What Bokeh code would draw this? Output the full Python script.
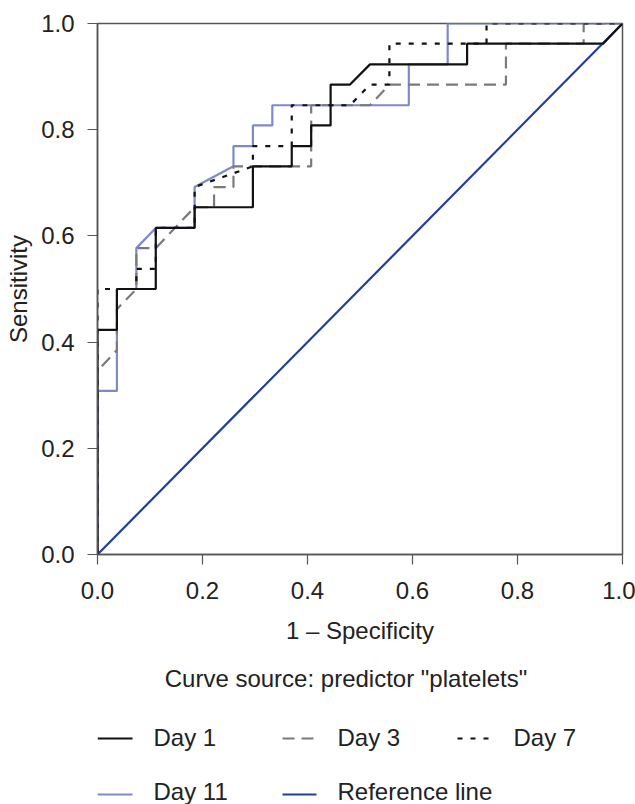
from bokeh.plotting import figure
from bokeh.models import Range1d, FixedTicker, PrintfTickFormatter
from bokeh.layouts import column
from bokeh.embed import file_html
from bokeh.resources import INLINE
from bokeh.core.properties import value

# ---- data (1 - specificity, sensitivity) ----
day1_x = [0, 0, .037, .037, .111, .111, .185, .185, .296, .296, .370, .370, .407, .407,
          .444, .444, .481, .519, .704, .704, .963, 1]
day1_y = [0, .423, .423, .5, .5, .615, .615, .654, .654, .731, .731, .769, .769, .808,
          .808, .885, .885, .923, .923, .962, .962, 1]

day3_x = [0, 0, .037, .037, .074, .074, .111, .185, .222, .222, .259, .259, .407, .407,
          .519, .556, .778, .778, .926, .926, 1]
day3_y = [0, .346, .385, .462, .5, .577, .577, .654, .654, .692, .692, .731, .731, .846,
          .846, .885, .885, .962, .962, 1, 1]

day7_x = [0, 0, .074, .074, .111, .111, .185, .185, .296, .296, .370, .370, .481, .519,
          .556, .556, .741, .741, 1]
day7_y = [0, .5, .5, .538, .538, .615, .615, .692, .731, .769, .769, .846, .846, .885,
          .885, .962, .962, 1, 1]

day11_x = [0, 0, .037, .037, .074, .074, .111, .185, .185, .259, .259, .296, .296, .333,
           .333, .593, .593, .667, .667, 1]
day11_y = [0, .308, .308, .5, .5, .577, .615, .615, .692, .731, .769, .769, .808, .808,
           .846, .846, .923, .923, 1, 1]

ref_x = [0, 1]
ref_y = [0, 1]

ticks = [0.0, 0.2, 0.4, 0.6, 0.8, 1.0]
series_names = ["Day 1", "Day 3", "Day 7", "Day 11", "Reference line"]
caption = 'Curve source: predictor "platelets"'

# ---- styles ----
FONT = "Liberation Sans"
FS = "24px"
TXT = "#222222"
AX = "#555555"
C_D1 = "#111111"
C_D3 = "#7a7a7a"
C_D7 = "#111111"
C_D11 = "#8088cc"
C_REF = "#1f3f9c"
DASH3 = "12 7"
DASH7 = "5 8"
LW = 2.2

p = figure(width=635, height=660, x_range=Range1d(0, 1), y_range=Range1d(0, 1),
           output_backend="svg", toolbar_location=None,
           min_border_left=97, min_border_right=13, min_border_top=23, min_border_bottom=106)
p.xgrid.visible = False
p.ygrid.visible = False
p.outline_line_color = AX
p.outline_line_width = 1.5
p.background_fill_color = "white"
p.border_fill_color = "white"

for ax in (p.xaxis[0], p.yaxis[0]):
    ax.ticker = FixedTicker(ticks=ticks)
    ax.formatter = PrintfTickFormatter(format="%.1f")
    ax.axis_line_color = AX
    ax.axis_line_width = 1.5
    ax.major_tick_line_color = AX
    ax.major_tick_line_width = 1.2
    ax.major_tick_out = 10
    ax.major_tick_in = 0
    ax.minor_tick_line_color = None
    ax.major_label_text_font = FONT
    ax.major_label_text_font_size = FS
    ax.major_label_text_color = TXT
    ax.axis_label_text_font = FONT
    ax.axis_label_text_font_size = FS
    ax.axis_label_text_color = TXT
    ax.axis_label_text_font_style = "normal"

p.xaxis.axis_label = "1 \u2013 Specificity"
p.yaxis.axis_label = "Sensitivity"
p.xaxis.major_label_standoff = 17
p.xaxis.axis_label_standoff = 15
p.yaxis.major_label_standoff = 13
p.yaxis.axis_label_standoff = 6

p.line(ref_x, ref_y, line_color=C_REF, line_width=LW)
p.line(day11_x, day11_y, line_color=C_D11, line_width=LW)
p.line(day3_x, day3_y, line_color=C_D3, line_width=LW, line_dash=DASH3)
p.line(day7_x, day7_y, line_color=C_D7, line_width=LW, line_dash=DASH7)
p.line(day1_x, day1_y, line_color=C_D1, line_width=LW)

# ---- caption + legend panel (frame aligned with the plot frame: x in page pixels) ----
q = figure(width=635, height=144, x_range=Range1d(97, 622), y_range=Range1d(144, 0),
           output_backend="svg", toolbar_location=None,
           min_border=0, min_border_left=0, min_border_right=0,
           min_border_top=0, min_border_bottom=0)
q.axis.visible = False
q.xgrid.visible = False
q.ygrid.visible = False
q.outline_line_color = None
q.background_fill_color = "white"
q.border_fill_color = "white"

q.text(x=[345.5], y=[18], text=[caption], text_font=value(FONT), text_font_size=FS,
       text_color=TXT, text_align="center", text_baseline="middle")

leg_colors = [C_D1, C_D3, C_D7, C_D11, C_REF]
leg_dash = ["solid", DASH3, DASH7, "solid", "solid"]
leg_x0 = [97, 282, 457, 97, 282]
leg_x1 = [132, 314, 490, 132, 316]
leg_tx = [153, 337, 513, 153, 337]
leg_ly = [78, 78, 78, 134, 134]
leg_ty = [77, 77, 77, 131, 131]
for name, c, d, a, b, tx, ly, ty in zip(series_names, leg_colors, leg_dash, leg_x0,
                                         leg_x1, leg_tx, leg_ly, leg_ty):
    q.line([a, b], [ly, ly], line_color=c, line_width=LW, line_dash=d)
    q.text(x=[tx], y=[ty], text=[name], text_font=value(FONT), text_font_size=FS,
           text_color=TXT, text_align="left", text_baseline="middle")

layout = column(p, q, spacing=0)
open("out.html", "w").write(file_html(layout, INLINE))
